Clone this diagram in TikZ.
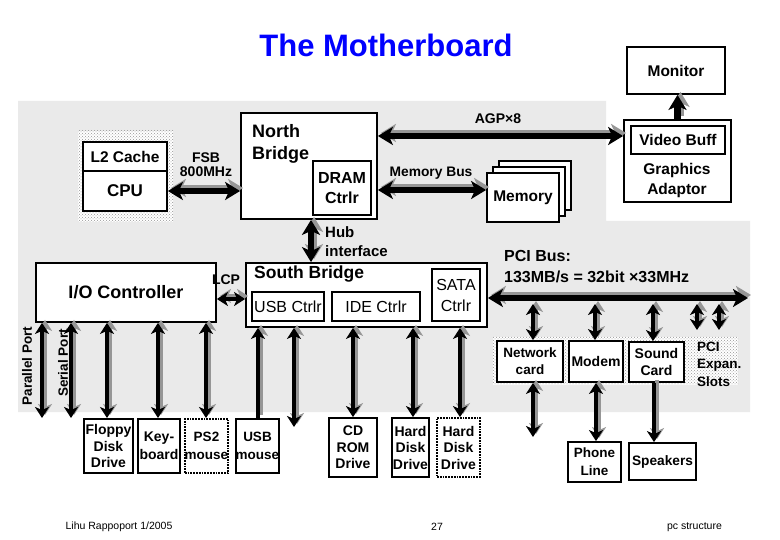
\documentclass[tikz,border=0pt]{standalone}
\usepackage{fontspec}
\setmainfont{Liberation Sans}
\usetikzlibrary{arrows.meta,patterns}
\definecolor{bg}{RGB}{234,234,234}
\definecolor{shgray}{RGB}{150,150,150}
\definecolor{titleblue}{RGB}{0,0,255}
\newcommand\fsz[2]{\fontsize{#1}{#2}\selectfont}
\begin{document}
\begin{tikzpicture}[x=1pt,y=-1pt,
  box/.style={draw, line width=1.8pt, fill=white, inner sep=0pt, align=center,
    font=\bfseries\fsz{14}{16.5}},
  dbox/.style={box, densely dotted},
  lbl/.style={inner sep=0pt, align=center, font=\bfseries\fsz{14}{14}},
  foot/.style={inner sep=0pt, font=\fsz{10.5}{12}},
  shade/.style={pattern=crosshatch dots, pattern color=shgray},
  arrB/.style={line width=6.5pt, >={Stealth[length=15pt,width=18pt,inset=4pt]}, arrows={#1},
    preaction={draw=shgray, line width=6.5pt, arrows={#1},
      transform canvas={xshift=3pt,yshift=3pt}}},
  arrS/.style={line width=4.5pt, >={Stealth[length=11pt,width=14pt,inset=3pt]}, arrows={#1},
    preaction={draw=shgray, line width=4.5pt, arrows={#1},
      transform canvas={xshift=3pt,yshift=3pt}}}
]
\useasboundingbox (0,0) rectangle (780,540);
\fill[white] (0,0) rectangle (780,540);
\fill[bg] (18,101) -- (606,101) -- (606,221) -- (750,221) -- (750,412) -- (18,412) -- cycle;
\fill[white] (78,131) rectangle (173,222);
\fill[shade] (78,131) rectangle (173,222);
\fill[white] (493,337) rectangle (738,385);
\fill[shade] (493,337) rectangle (738,385);

% title
\node[inner sep=0pt, font=\bfseries\fsz{31}{31}, text=titleblue] (title) at (386,45) {The Motherboard};

% graphics
\node[box, minimum width=98pt, minimum height=47pt, font=\bfseries\fsz{15.5}{18}] (monitor) at (676,70.5) {Monitor};
\node[box, minimum width=107pt, minimum height=82pt] (gfx) at (677.5,161) {};
\node[box, minimum width=94pt, minimum height=28pt, font=\bfseries\fsz{15.5}{18}] (vbuff) at (678,140) {Video Buff};
\node[lbl, font=\bfseries\fsz{15.5}{20}] (gfxlbl) at (677,180) {Graphics\\Adaptor};

% north bridge
\node[box, minimum width=136pt, minimum height=106pt] (nb) at (309,166) {};
\node[lbl, anchor=west, align=left, font=\bfseries\fsz{18}{22}] (nblbl) at (252,144) {North\\Bridge};
\node[box, minimum width=58pt, minimum height=54pt, font=\bfseries\fsz{16}{20}] (dram) at (342,188) {DRAM\\Ctrlr};

% cpu
\node[box, minimum width=84pt, minimum height=29pt, font=\bfseries\fsz{15.5}{18}] (l2) at (125,156.5) {L2 Cache};
\node[box, minimum width=84pt, minimum height=40pt, font=\bfseries\fsz{17}{20}] (cpu) at (125,191) {CPU};

% memory
\node[box, minimum width=72pt, minimum height=49pt] (mem3) at (535,185.5) {};
\node[box, minimum width=72pt, minimum height=49pt] (mem2) at (529,191.5) {};
\node[box, minimum width=72pt, minimum height=49pt, font=\bfseries\fsz{15.5}{18}] (mem) at (523,197.5) {Memory};

% south bridge
\node[box, minimum width=241pt, minimum height=64pt] (sb) at (366.5,295) {};
\node[lbl, anchor=west, font=\bfseries\fsz{17.5}{20}] (sblbl) at (254,274) {South Bridge};
\node[box, minimum width=72pt, minimum height=29pt, font=\fsz{16}{20}] (usbc) at (288,306.5) {USB Ctrlr};
\node[box, minimum width=88pt, minimum height=29pt, font=\fsz{16}{20}] (idec) at (376,306.5) {IDE Ctrlr};
\node[box, minimum width=48pt, minimum height=52pt, font=\fsz{16}{21}] (sata) at (456,295) {SATA\\Ctrlr};

% io
\node[box, minimum width=180pt, minimum height=59pt, font=\bfseries\fsz{18}{20}] (io) at (126,292.5) {I/O Controller};

% pci devices
\node[box, minimum width=66pt, minimum height=41pt, font=\bfseries\fsz{13.5}{17}] (net) at (530,361.5) {Network\\card};
\node[box, minimum width=54pt, minimum height=41pt, font=\bfseries\fsz{14}{17}] (modem) at (596,361.5) {Modem};
\node[box, minimum width=55pt, minimum height=40pt, font=\bfseries\fsz{14}{17}] (sound) at (656.5,362) {Sound\\Card};
\node[lbl, anchor=west, align=left, font=\bfseries\fsz{13.5}{17.5}] (slots) at (697,364) {PCI\\Expan.\\Slots};
\node[box, minimum width=53pt, minimum height=40pt, font=\bfseries\fsz{13.5}{18}] (phone) at (594.5,462) {Phone\\Line};
\node[box, minimum width=67pt, minimum height=37pt, font=\bfseries\fsz{13.7}{17}] (spk) at (662.5,461.5) {Speakers};

% bottom devices
\node[box, minimum width=49pt, minimum height=54pt] (floppy) at (108.5,446) {Floppy\\Disk\\Drive};
\node[box, minimum width=42pt, minimum height=54pt, font=\bfseries\fsz{14}{18}] (keyb) at (159,446) {Key-\\board};
\node[dbox, minimum width=43pt, minimum height=54pt, font=\bfseries\fsz{13.5}{18}] (ps2) at (206.5,446) {PS2\\mouse};
\node[box, minimum width=43pt, minimum height=54pt, font=\bfseries\fsz{13.5}{18}] (usbm) at (257.5,446) {USB\\mouse};
\node[box, minimum width=48pt, minimum height=59pt] (cdrom) at (353,447.5) {CD\\ROM\\Drive};
\node[box, minimum width=37pt, minimum height=59pt] (hd1) at (410.5,447.5) {Hard\\Disk\\Drive};
\node[dbox, minimum width=43pt, minimum height=59pt] (hd2) at (458.5,447.5) {Hard\\Disk\\Drive};

% labels
\node[lbl] (fsb) at (206,165) {FSB\\800MHz};
\node[lbl] (agp) at (498,119) {AGP×8};
\node[lbl, font=\bfseries\fsz{13.8}{16}] (membus) at (431,173) {Memory Bus};
\node[lbl, anchor=west, align=left, font=\bfseries\fsz{15}{19}] (hub) at (325,241.5) {Hub\\interface};
\node[lbl] (lcp) at (226,280) {LCP};
\node[lbl, anchor=west, align=left, font=\bfseries\fsz{16}{21}] (pci) at (504,266.5) {PCI Bus:\\133MB/s = 32bit ×33MHz};
\node[lbl, rotate=90, font=\bfseries\fsz{13.5}{16}] (par) at (27,366) {Parallel Port};
\node[lbl, rotate=90, font=\bfseries\fsz{13.5}{16}] (ser) at (63,363) {Serial Port};

% footer
\node[foot] (f1) at (119,527) {Lihu Rappoport 1/2005};
\node[foot] (f2) at (437,527) {27};
\node[foot] (f3) at (694.5,527) {pc structure};

% coordinates
\coordinate (pciend) at (748,298);
\coordinate (pn) at (533,304);
\coordinate (pm) at (595,304);
\coordinate (ps) at (653,304);
\coordinate (s1) at (697,304);
\coordinate (s1b) at (697,330);
\coordinate (s2) at (719,304);
\coordinate (s2b) at (719,330);
\coordinate (pnb) at (533,437);
\coordinate (io1) at (42,418);
\coordinate (io2) at (71,418);
\coordinate (io3) at (107,418);
\coordinate (io4) at (158,418);
\coordinate (io5) at (206,418);
\coordinate (sb2) at (294,427);

% big arrows
\draw[arrB={<->}] (cpu.east) -- (cpu.east -| nb.west);
\draw[arrB={<->}] (nb.east |- 0,136) -- (gfx.west |- 0,136);
\draw[arrB={<->}] (nb.east |- 0,190) -- (mem.west |- 0,190);
\draw[arrB={->}] (gfx.north) -- (gfx.north |- monitor.south);
\draw[arrB={<->}] (nb.south -| 311,0) -- (sb.north -| 311,0);
\draw[arrB={<->}] (sb.east |- 0,298) -- (pciend);
\draw[arrS={<->}] (io.east |- 0,299) -- (sb.west |- 0,299);

% pci device arrows
\draw[arrS={<->}] (pn) -- (pn |- net.north);
\draw[arrS={<->}] (pm) -- (pm |- modem.north);
\draw[arrS={<->}] (ps) -- (ps |- sound.north);
\draw[arrS={<->}] (s1) -- (s1b);
\draw[arrS={<->}] (s2) -- (s2b);
\draw[arrS={<->}] (pn |- net.south) -- (pnb);
\draw[arrS={<->}] (modem.south) -- (modem.south |- phone.north);
\draw[arrS={->}] (sound.south -| 654,0) -- (spk.north -| 654,0);

% io arrows
\draw[arrS={<->}] (io.south -| io1) -- (io1);
\draw[arrS={<->}] (io.south -| io2) -- (io2);
\draw[arrS={<->}] (io.south -| io3) -- (io3);
\draw[arrS={<->}] (io.south -| io4) -- (io4);
\draw[arrS={<->}] (io.south -| io5) -- (io5);

% south bridge arrows
\draw[arrS={->}] (usbm.north -| 258,0) -- (sb.south -| 258,0);
\draw[arrS={<->}] (sb.south -| sb2) -- (sb2);
\draw[arrS={<->}] (sb.south -| cdrom.north) -- (cdrom.north);
\draw[arrS={<->}] (sb.south -| 413,0) -- (hd1.north -| 413,0);
\draw[arrS={<->}] (sb.south -| 460,0) -- (hd2.north -| 460,0);
\end{tikzpicture}
\end{document}
